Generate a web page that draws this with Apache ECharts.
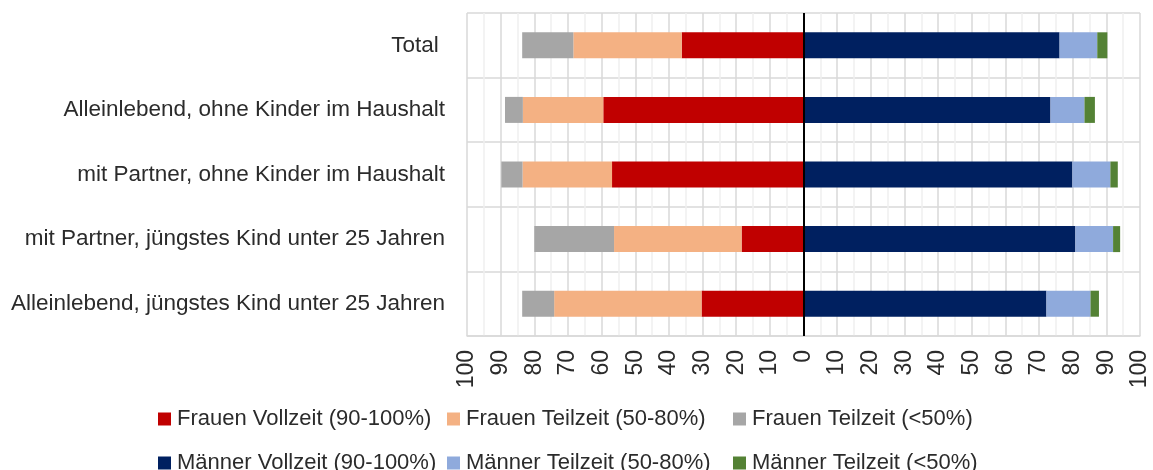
<!DOCTYPE html>
<html>
<head>
<meta charset="utf-8">
<script src="https://cdn.jsdelivr.net/npm/echarts@6/dist/echarts.min.js"></script>
<style>
html,body{margin:0;padding:0;background:#fff;}
#chart{width:1153px;height:470px;}
</style>
</head>
<body>
<div id="chart"></div>
<script>
const categories = [
  "Total ",
  "Alleinlebend, ohne Kinder im Haushalt",
  "mit Partner, ohne Kinder im Haushalt",
  "mit Partner, jüngstes Kind unter 25 Jahren",
  "Alleinlebend, jüngstes Kind unter 25 Jahren"
];
const xTicks = [-100, 100, 10];
// Women (plotted to the left, negative)
const frauenVollzeit = [-36.2, -59.5, -56.9, -18.4, -30.3];
const frauenTeilzeit5080 = [-32.2, -23.9, -26.6, -37.9, -43.8];
const frauenTeilzeitUnter50 = [-15.2, -5.3, -6.3, -23.7, -9.5];
// Men (plotted to the right)
const maennerVollzeit = [76.1, 73.4, 79.9, 80.8, 72.2];
const maennerTeilzeit5080 = [11.2, 10.1, 11.3, 11.2, 13.1];
const maennerTeilzeitUnter50 = [3.0, 3.1, 2.2, 2.1, 2.5];

const names = [
  "Frauen Vollzeit (90-100%)", "Frauen Teilzeit (50-80%)", "Frauen Teilzeit (<50%)",
  "Männer Vollzeit (90-100%)", "Männer Teilzeit (50-80%)", "Männer Teilzeit (<50%)"
];
const colors = ["#C00000", "#F4B183", "#A6A6A6", "#002060", "#8FAADC", "#548235"];
const values = [frauenVollzeit, frauenTeilzeit5080, frauenTeilzeitUnter50,
                maennerVollzeit, maennerTeilzeit5080, maennerTeilzeitUnter50];

const FONT = "'Liberation Sans', Arial, sans-serif";
const TXT = "#2b2b2b";

const series = names.map((n, i) => {
  const s = {
    name: n,
    type: "bar",
    stack: "all",
    barWidth: 26,
    data: values[i],
    itemStyle: { color: colors[i] },
    emphasis: { disabled: true },
    silent: true
  };
  if (i === 0) {
    s.markLine = {
      silent: true,
      symbol: "none",
      label: { show: false },
      lineStyle: { color: "#000", width: 2, type: "solid" },
      data: [{ xAxis: 0 }],
      animation: false
    };
  }
  return s;
});

const legendPos = [
  [158, 408], [447, 408], [733, 408],
  [158, 452], [447, 452], [733, 452]
];
const legends = names.map((n, i) => ({
  data: [n],
  left: legendPos[i][0],
  top: legendPos[i][1],
  padding: 0,
  icon: "rect",
  itemWidth: 13,
  itemHeight: 13,
  itemGap: 0,
  selectedMode: false,
  textStyle: { fontFamily: FONT, fontSize: 22, color: TXT, padding: [0, 0, 0, 1] }
}));

const chart = echarts.init(document.getElementById("chart"), null, { renderer: "canvas" });
chart.setOption({
  animation: false,
  color: colors,
  legend: legends,
  grid: { left: 467, right: 13, top: 13, bottom: 134, containLabel: false },
  xAxis: {
    type: "value",
    min: xTicks[0],
    max: xTicks[1],
    interval: xTicks[2],
    axisLine: { show: true, lineStyle: { color: "#d9d9d9", width: 1.5 } },
    axisTick: { show: false },
    splitLine: { show: true, lineStyle: { color: "#d9d9d9", width: 1.5 } },
    minorTick: { show: false, splitNumber: 2 },
    minorSplitLine: { show: true, lineStyle: { color: "#efefef", width: 1.5 } },
    axisLabel: {
      rotate: 90,
      margin: 14,
      fontFamily: FONT,
      fontSize: 23,
      color: TXT,
      formatter: v => String(Math.abs(v))
    }
  },
  yAxis: {
    type: "category",
    inverse: true,
    data: categories,
    axisLine: { show: false },
    axisTick: { show: false },
    splitLine: { show: true, lineStyle: { color: "#d9d9d9", width: 1.5 } },
    axisLabel: { margin: 22, fontFamily: FONT, fontSize: 22.5, color: TXT }
  },
  series: series
});
</script>
</body>
</html>
